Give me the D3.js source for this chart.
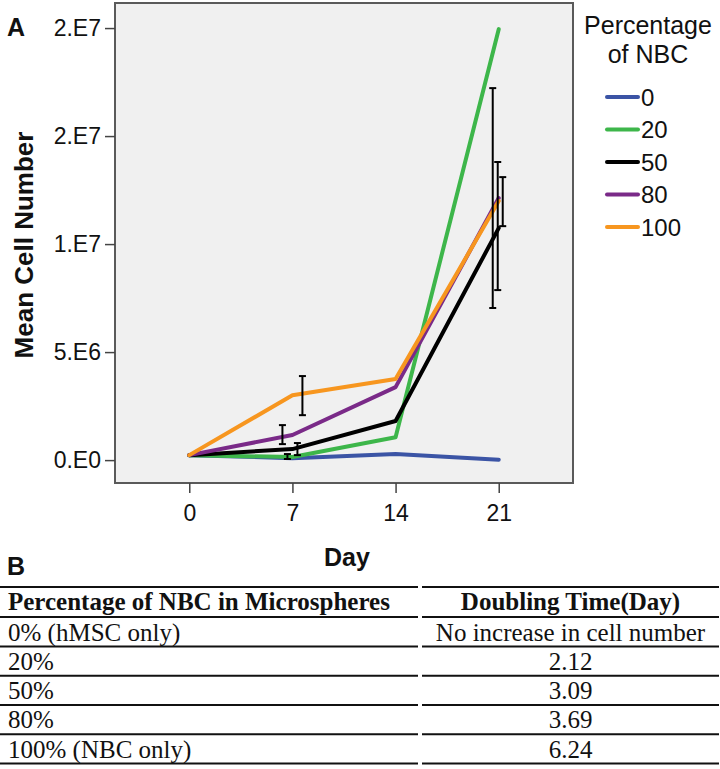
<!DOCTYPE html>
<html>
<head>
<meta charset="utf-8">
<script src="https://cdn.jsdelivr.net/npm/d3@7/dist/d3.min.js"></script>
<style>
  html, body { margin: 0; padding: 0; background: #fff; }
  svg { display: block; }
</style>
</head>
<body>
<svg id="chart" width="720" height="769"></svg>
<script>
// ---------------- DATA ----------------
const days = [0, 7, 14, 21];
const seriesNames = ["0", "20", "50", "80", "100"];
const cells0   = [0.23e6, 0.09e6, 0.28e6, 0.02e6];
const cells20  = [0.23e6, 0.14e6, 1.06e6, 19.95e6];
const cells50  = [0.23e6, 0.51e6, 1.81e6, 10.74e6];
const cells80  = [0.23e6, 1.16e6, 3.38e6, 12.13e6];
const cells100 = [0.23e6, 3.00e6, 3.75e6, 11.99e6];
// error bar [low, high] per day (null = none)
const err0   = [null, null, null, null];
const err20  = [null, [0.05e6, 0.28e6], null, null];
const err50  = [null, [0.23e6, 0.79e6], null, [7.87e6, 13.80e6]];
const err80  = [null, [0.74e6, 1.62e6], null, [7.04e6, 17.22e6]];
const err100 = [null, [2.08e6, 3.89e6], null, [10.83e6, 13.10e6]];
const yTickValues = [0, 5e6, 1e7, 1.5e7, 2e7];
const yTickLabels = ["0.E0", "5.E6", "1.E7", "2.E7", "2.E7"];
const legendTitle = ["Percentage", "of NBC"];
const xTitle = "Day";
const yTitle = "Mean Cell Number";
const tableHeaders = ["Percentage of NBC in Microspheres", "Doubling Time(Day)"];
const tableGroups = ["0% (hMSC only)", "20%", "50%", "80%", "100% (NBC only)"];
const doublingTimes = ["No increase in cell number", "2.12", "3.09", "3.69", "6.24"];

// ---------------- STYLE / LAYOUT ----------------
const colors = { "0": "#3b54a5", "20": "#3db64a", "50": "#000000", "80": "#7a2a88", "100": "#f7961f" };
// horizontal dodge (px) of error bars per series per day
const dodge = { "0": [0,0,0,0], "20": [0,-5,0,0], "50": [0,5,0,-1], "80": [0,-10,0,-6], "100": [0,10,0,4] };

const series = [
  { name: "0", values: cells0, err: err0 },
  { name: "20", values: cells20, err: err20 },
  { name: "50", values: cells50, err: err50 },
  { name: "80", values: cells80, err: err80 },
  { name: "100", values: cells100, err: err100 }
];

const svg = d3.select("#chart");
const plot = { left: 115, right: 573, top: 3, bottom: 483 };
const sans = "'Liberation Sans', Arial, sans-serif";
const serif = "'Liberation Serif', 'Times New Roman', serif";

const x = d3.scalePoint().domain(days).range([plot.left, plot.right]).padding(0.72);
const y = d3.scaleLinear().domain([-1.06e6, 2.116e7]).range([plot.bottom, plot.top]);

// plot background + frame
svg.append("rect")
  .attr("x", plot.left).attr("y", plot.top)
  .attr("width", plot.right - plot.left).attr("height", plot.bottom - plot.top)
  .attr("fill", "#f0f0f0").attr("stroke", "#5a5a5a").attr("stroke-width", 2);

// y axis
const yAxis = d3.axisLeft(y).tickValues(yTickValues)
  .tickFormat((d, i) => yTickLabels[i]).tickSize(10).tickPadding(4);
const gy = svg.append("g").attr("transform", `translate(${plot.left},0)`).call(yAxis);
gy.select(".domain").remove();
gy.selectAll(".tick line").attr("stroke", "#444").attr("stroke-width", 1.5);
gy.selectAll(".tick text").attr("font-family", sans).attr("font-size", 23).attr("fill", "#111");

// x axis
const xAxis = d3.axisBottom(x).tickSize(10).tickPadding(12);
const gx = svg.append("g").attr("transform", `translate(0,${plot.bottom})`).call(xAxis);
gx.select(".domain").remove();
gx.selectAll(".tick line").attr("stroke", "#444").attr("stroke-width", 1.5);
gx.selectAll(".tick text").attr("font-family", sans).attr("font-size", 23).attr("fill", "#111");

// titles
svg.append("text").attr("x", (x(7) + x(14)) / 2 + 3).attr("y", 566)
  .attr("text-anchor", "middle").attr("font-family", sans).attr("font-weight", "bold")
  .attr("font-size", 25).attr("fill", "#111").text(xTitle);
svg.append("text").attr("transform", `translate(33,${245}) rotate(-90)`)
  .attr("text-anchor", "middle").attr("font-family", sans).attr("font-weight", "bold")
  .attr("font-size", 26).attr("fill", "#111").text(yTitle);
svg.append("text").attr("x", 7).attr("y", 36).attr("font-family", sans).attr("font-weight", "bold")
  .attr("font-size", 25).attr("fill", "#111").text("A");
svg.append("text").attr("x", 7).attr("y", 575).attr("font-family", sans).attr("font-weight", "bold")
  .attr("font-size", 25).attr("fill", "#111").text("B");

// lines
const line = d3.line().x((d, i) => x(days[i])).y(d => y(d));
svg.append("g").selectAll("path").data(series).join("path")
  .attr("d", d => line(d.values))
  .attr("fill", "none").attr("stroke", d => colors[d.name])
  .attr("stroke-width", 4).attr("stroke-linejoin", "round").attr("stroke-linecap", "round");

// error bars
const errData = [];
series.forEach(s => s.err.forEach((e, i) => {
  if (e) errData.push({ name: s.name, day: days[i], lo: e[0], hi: e[1], dx: dodge[s.name][i] });
}));
const eg = svg.append("g").attr("stroke", "#000").attr("stroke-width", 2);
const cap = 3.5;
errData.forEach(d => {
  const cx = x(d.day) + d.dx;
  eg.append("line").attr("x1", cx).attr("x2", cx).attr("y1", y(d.lo)).attr("y2", y(d.hi));
  eg.append("line").attr("x1", cx - cap).attr("x2", cx + cap).attr("y1", y(d.lo)).attr("y2", y(d.lo));
  eg.append("line").attr("x1", cx - cap).attr("x2", cx + cap).attr("y1", y(d.hi)).attr("y2", y(d.hi));
});

// legend
const lg = svg.append("g");
legendTitle.forEach((t, i) => {
  lg.append("text").attr("x", 648).attr("y", 34 + i * 29).attr("text-anchor", "middle")
    .attr("font-family", sans).attr("font-size", 25).attr("fill", "#111").text(t);
});
seriesNames.forEach((n, i) => {
  const ly = 97 + i * 32.5;
  lg.append("line").attr("x1", 607).attr("x2", 638).attr("y1", ly).attr("y2", ly)
    .attr("stroke", colors[n]).attr("stroke-width", 4).attr("stroke-linecap", "round");
  lg.append("text").attr("x", 641).attr("y", ly + 8.5).attr("font-family", sans)
    .attr("font-size", 24).attr("fill", "#111").text(n);
});

// table
const tg = svg.append("g");
const col = [{ x0: 0, x1: 418 }, { x0: 422, x1: 719 }];
const ruleY = [587, 617, 646.5, 675.8, 705, 734.3, 763.5];
ruleY.forEach(ry => {
  col.forEach(c => {
    tg.append("line").attr("x1", c.x0).attr("x2", c.x1).attr("y1", ry).attr("y2", ry)
      .attr("stroke", "#111").attr("stroke-width", 2);
  });
});
tg.append("text").attr("x", 8).attr("y", ruleY[1] - 7).attr("font-family", serif)
  .attr("font-weight", "bold").attr("font-size", 25).attr("fill", "#111").text(tableHeaders[0]);
tg.append("text").attr("x", (col[1].x0 + col[1].x1) / 2).attr("y", ruleY[1] - 7).attr("text-anchor", "middle")
  .attr("font-family", serif).attr("font-weight", "bold").attr("font-size", 25).attr("fill", "#111").text(tableHeaders[1]);
tableGroups.forEach((g, i) => {
  const by = ruleY[i + 2] - 6;
  tg.append("text").attr("x", 8).attr("y", by).attr("font-family", serif)
    .attr("font-size", 25).attr("fill", "#111").text(g);
  tg.append("text").attr("x", (col[1].x0 + col[1].x1) / 2).attr("y", by).attr("text-anchor", "middle")
    .attr("font-family", serif).attr("font-size", 25).attr("fill", "#111").text(doublingTimes[i]);
});
</script>
</body>
</html>
